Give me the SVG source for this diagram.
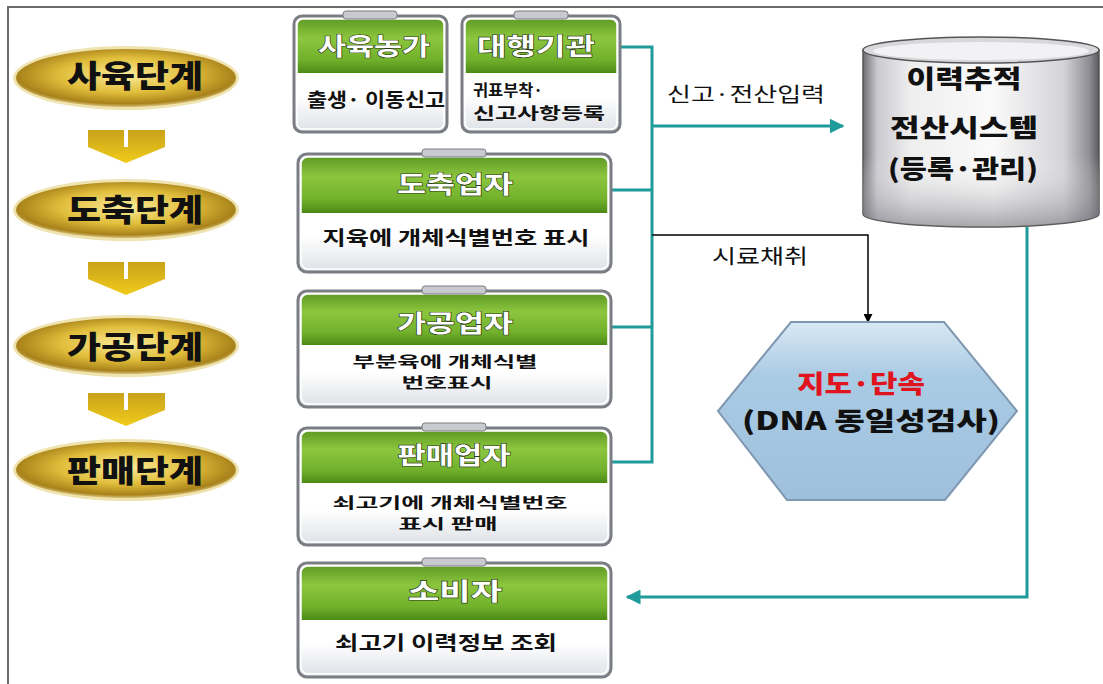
<svg xmlns="http://www.w3.org/2000/svg" width="1103" height="684" viewBox="0 0 1103 684">
<defs>
<radialGradient id="gold" cx="50%" cy="45%" r="55%">
<stop offset="0" stop-color="#fbeb9a"/>
<stop offset="0.55" stop-color="#e0bd3a"/>
<stop offset="0.9" stop-color="#a8821a"/>
<stop offset="1" stop-color="#d9c27a"/>
</radialGradient>
<linearGradient id="goldArrow" x1="0" y1="0" x2="0" y2="1">
<stop offset="0" stop-color="#c9a21c"/>
<stop offset="1" stop-color="#f0cc1a"/>
</linearGradient>
<linearGradient id="green" x1="0" y1="0" x2="0" y2="1">
<stop offset="0" stop-color="#5f9a25"/>
<stop offset="0.35" stop-color="#8cc63e"/>
<stop offset="0.75" stop-color="#72b12c"/>
<stop offset="1" stop-color="#4c8a16"/>
</linearGradient>
<linearGradient id="body" x1="0" y1="0" x2="0" y2="1">
<stop offset="0" stop-color="#ffffff"/>
<stop offset="0.7" stop-color="#ffffff"/>
<stop offset="1" stop-color="#dde0e6"/>
</linearGradient>
<linearGradient id="metal" x1="0" y1="0" x2="1" y2="0">
<stop offset="0" stop-color="#6d6d72"/>
<stop offset="0.06" stop-color="#c9c9cf"/>
<stop offset="0.2" stop-color="#eeeeef"/>
<stop offset="0.55" stop-color="#fafafa"/>
<stop offset="0.85" stop-color="#d4d4d8"/>
<stop offset="0.96" stop-color="#8d8d93"/>
<stop offset="1" stop-color="#5a5a60"/>
</linearGradient>
<linearGradient id="metalShade" x1="0" y1="0" x2="0" y2="1">
<stop offset="0" stop-color="#ffffff" stop-opacity="0"/>
<stop offset="0.6" stop-color="#ffffff" stop-opacity="0"/>
<stop offset="1" stop-color="#707078" stop-opacity="0.6"/>
</linearGradient>
<linearGradient id="hex" x1="0" y1="0" x2="0" y2="1">
<stop offset="0" stop-color="#d8e8f4"/>
<stop offset="0.3" stop-color="#aacbe4"/>
<stop offset="1" stop-color="#9ec0dc"/>
</linearGradient>
<marker id="tealHead" viewBox="0 0 10 10" refX="9" refY="5" markerWidth="5" markerHeight="5" orient="auto">
<path d="M0,0 L10,5 L0,10 z" fill="#1f9b9b"/>
</marker>
<marker id="blackHead" viewBox="0 0 10 10" refX="9" refY="5" markerWidth="6" markerHeight="6" orient="auto">
<path d="M0,0 L10,5 L0,10 z" fill="#000"/>
</marker>
</defs>
<style>
.stage{font-family:"Noto Sans CJK KR","Noto Sans",sans-serif;font-weight:900;font-size:31px;fill:#111;text-anchor:middle}
.hdr{font-family:"Noto Sans CJK KR","Noto Sans",sans-serif;font-weight:700;font-size:24px;fill:#ffffff;stroke:#2a3a1a;stroke-width:1.2;paint-order:stroke;text-anchor:middle}
.bt{font-family:"Noto Sans CJK KR","Noto Sans",sans-serif;font-weight:700;font-size:19px;fill:#111;text-anchor:middle}
.bt2{font-family:"Noto Sans CJK KR","Noto Sans",sans-serif;font-weight:700;font-size:14.5px;fill:#111;text-anchor:middle}
.lbl{font-family:"Noto Sans CJK KR","Noto Sans",sans-serif;font-weight:400;font-size:20px;fill:#111}
.cyl{font-family:"Noto Sans CJK KR","Noto Sans",sans-serif;font-weight:900;font-size:25px;fill:#111;text-anchor:middle}
.frame{fill:url(#body);stroke:#7a7d84;stroke-width:3}
.inner{fill:none;stroke:#ffffff;stroke-width:1.5}
.head{fill:url(#green)}
.tab{fill:#c8cacf;stroke:#7a7d84;stroke-width:1}
.arrowS{fill:url(#goldArrow)}
.teal{fill:none;stroke:#1f9b9b;stroke-width:3}
</style>
<rect x="0" y="0" width="1103" height="684" fill="#ffffff"/>
<path d="M8,684 L8,7 L1103,7" fill="none" stroke="#6b6b6b" stroke-width="2"/>

<g id="stage-saryuk">
<ellipse cx="126" cy="78" rx="113" ry="32" fill="#efe3b0"/>
<ellipse cx="126" cy="78" rx="110" ry="29" fill="url(#gold)"/>
<text class="stage" x="135" y="87" textLength="136" lengthAdjust="spacingAndGlyphs">사육단계</text>
</g>
<g id="arrow1"><path class="arrowS" d="M88,130 L124,130 L124,147 L128,147 L128,130 L165,130 L165,147 L126,163 L88,147 z"/></g>
<g id="stage-dochuk">
<ellipse cx="126" cy="210" rx="113" ry="31" fill="#efe3b0"/>
<ellipse cx="126" cy="210" rx="110" ry="28" fill="url(#gold)"/>
<text class="stage" x="135" y="221" textLength="136" lengthAdjust="spacingAndGlyphs">도축단계</text>
</g>
<g id="arrow2"><path class="arrowS" d="M88,262 L124,262 L124,279 L128,279 L128,262 L165,262 L165,279 L126,295 L88,279 z"/></g>
<g id="stage-gagong">
<ellipse cx="126" cy="346" rx="113" ry="31" fill="#efe3b0"/>
<ellipse cx="126" cy="346" rx="110" ry="28" fill="url(#gold)"/>
<text class="stage" x="135" y="358" textLength="136" lengthAdjust="spacingAndGlyphs">가공단계</text>
</g>
<g id="arrow3"><path class="arrowS" d="M88,393 L124,393 L124,410 L128,410 L128,393 L165,393 L165,410 L126,426 L88,410 z"/></g>
<g id="stage-panmae">
<ellipse cx="126" cy="470" rx="113" ry="31" fill="#efe3b0"/>
<ellipse cx="126" cy="470" rx="110" ry="28" fill="url(#gold)"/>
<text class="stage" x="135" y="482" textLength="136" lengthAdjust="spacingAndGlyphs">판매단계</text>
</g>

<g id="connectors">
<path class="teal" d="M620,47 L652,47 L652,462 L612,462"/>
<path class="teal" d="M611,190 L652,190"/>
<path class="teal" d="M611,327 L652,327"/>
<path class="teal" d="M652,126 L843,126" marker-end="url(#tealHead)"/>
<path d="M652,235 L868,235 L868,322" fill="none" stroke="#000" stroke-width="1.5" marker-end="url(#blackHead)"/>
<path class="teal" d="M1027,227 L1027,597 L627,597" marker-end="url(#tealHead)"/>
</g>
<text class="lbl" x="667" y="102" textLength="158" lengthAdjust="spacingAndGlyphs">신고·전산입력</text>
<text class="lbl" x="712" y="264" textLength="96" lengthAdjust="spacingAndGlyphs">시료채취</text>

<g id="box-farm">
<rect class="frame" x="294" y="16" width="153" height="116" rx="8"/>
<path class="head" d="M297,27 Q297,19 305,19 L436,19 Q444,19 444,27 L444,73 L297,73 z"/>
<rect class="inner" x="297" y="19" width="147" height="110" rx="6"/>
<rect class="tab" x="343" y="11" width="54" height="8" rx="3"/>
<text class="hdr" x="374" y="55" textLength="112" lengthAdjust="spacingAndGlyphs">사육농가</text>
<text class="bt" x="376" y="107" textLength="138" lengthAdjust="spacingAndGlyphs">출생· 이동신고</text>
</g>
<g id="box-agency">
<rect class="frame" x="462" y="16" width="158" height="116" rx="8"/>
<path class="head" d="M465,27 Q465,19 473,19 L609,19 Q617,19 617,27 L617,73 L465,73 z"/>
<rect class="inner" x="465" y="19" width="152" height="110" rx="6"/>
<rect class="tab" x="514" y="11" width="54" height="8" rx="3"/>
<text class="hdr" x="536" y="55" textLength="118" lengthAdjust="spacingAndGlyphs">대행기관</text>
<text class="bt" x="473" y="96" style="text-anchor:start;font-size:15.5px" textLength="70" lengthAdjust="spacingAndGlyphs">귀표부착·</text>
<text class="bt" x="473" y="119" style="text-anchor:start;font-size:15.5px" textLength="132" lengthAdjust="spacingAndGlyphs">신고사항등록</text>
</g>
<g id="box-slaughter">
<rect class="frame" x="298" y="154" width="313" height="118" rx="9"/>
<path class="head" d="M301,165 Q301,157 309,157 L600,157 Q608,157 608,165 L608,213 L301,213 z"/>
<rect class="inner" x="301" y="157" width="307" height="112" rx="7"/>
<rect class="tab" x="422" y="149" width="64" height="8" rx="3"/>
<text class="hdr" x="455" y="193" textLength="116" lengthAdjust="spacingAndGlyphs">도축업자</text>
<text class="bt" x="456" y="245" textLength="267" lengthAdjust="spacingAndGlyphs">지육에 개체식별번호 표시</text>
</g>
<g id="box-process">
<rect class="frame" x="298" y="291" width="313" height="116" rx="9"/>
<path class="head" d="M301,302 Q301,294 309,294 L600,294 Q608,294 608,302 L608,345 L301,345 z"/>
<rect class="inner" x="301" y="294" width="307" height="110" rx="7"/>
<rect class="tab" x="422" y="286" width="64" height="8" rx="3"/>
<text class="hdr" x="455" y="332" textLength="116" lengthAdjust="spacingAndGlyphs">가공업자</text>
<text class="bt2" x="445" y="367" textLength="185" lengthAdjust="spacingAndGlyphs">부분육에 개체식별</text>
<text class="bt2" x="447" y="388" textLength="91" lengthAdjust="spacingAndGlyphs">번호표시</text>
</g>
<g id="box-seller">
<rect class="frame" x="298" y="428" width="313" height="117" rx="9"/>
<path class="head" d="M301,439 Q301,431 309,431 L600,431 Q608,431 608,439 L608,483 L301,483 z"/>
<rect class="inner" x="301" y="431" width="307" height="111" rx="7"/>
<rect class="tab" x="422" y="423" width="64" height="8" rx="3"/>
<text class="hdr" x="454" y="464" textLength="113" lengthAdjust="spacingAndGlyphs">판매업자</text>
<text class="bt2" x="450" y="508" textLength="235" lengthAdjust="spacingAndGlyphs">쇠고기에 개체식별번호</text>
<text class="bt2" x="448" y="529" textLength="99" lengthAdjust="spacingAndGlyphs">표시 판매</text>
</g>
<g id="box-consumer">
<rect class="frame" x="298" y="563" width="313" height="114" rx="9"/>
<path class="head" d="M301,574 Q301,566 309,566 L600,566 Q608,566 608,574 L608,620 L301,620 z"/>
<rect class="inner" x="301" y="566" width="307" height="108" rx="7"/>
<rect class="tab" x="422" y="558" width="64" height="8" rx="3"/>
<text class="hdr" x="455" y="600" textLength="94" lengthAdjust="spacingAndGlyphs">소비자</text>
<text class="bt" x="446" y="650" textLength="222" lengthAdjust="spacingAndGlyphs">쇠고기 이력정보 조회</text>
</g>

<g id="system">
<path d="M863,50 L863,214 A118,13 0 0 0 1099,214 L1099,50 z" fill="url(#metal)" stroke="#555" stroke-width="1.5"/>
<path d="M863,50 L863,214 A118,13 0 0 0 1099,214 L1099,50 z" fill="url(#metalShade)"/>
<ellipse cx="981" cy="50" rx="118" ry="13" fill="#d8d8dc" stroke="#555" stroke-width="1.5"/>
<ellipse cx="981" cy="51" rx="108" ry="9" fill="#f2f2f4"/>
<text class="cyl" x="964" y="88" textLength="115" lengthAdjust="spacingAndGlyphs">이력추적</text>
<text class="cyl" x="964" y="137" textLength="148" lengthAdjust="spacingAndGlyphs">전산시스템</text>
<text class="cyl" x="963" y="178" textLength="150" lengthAdjust="spacingAndGlyphs">(등록·관리)</text>
</g>

<g id="inspection">
<polygon points="791,322 944,322 1017,411 945,500 787,500 718,411" fill="url(#hex)" stroke="#7f97b0" stroke-width="2"/>
<text x="861" y="393" textLength="128" lengthAdjust="spacingAndGlyphs" style="font-family:'Noto Sans CJK KR','Noto Sans',sans-serif;font-weight:900;font-size:25px;fill:#e0141e;text-anchor:middle">지도·단속</text>
<text class="cyl" x="871" y="430" textLength="258" lengthAdjust="spacingAndGlyphs">(DNA 동일성검사)</text>
</g>
</svg>
